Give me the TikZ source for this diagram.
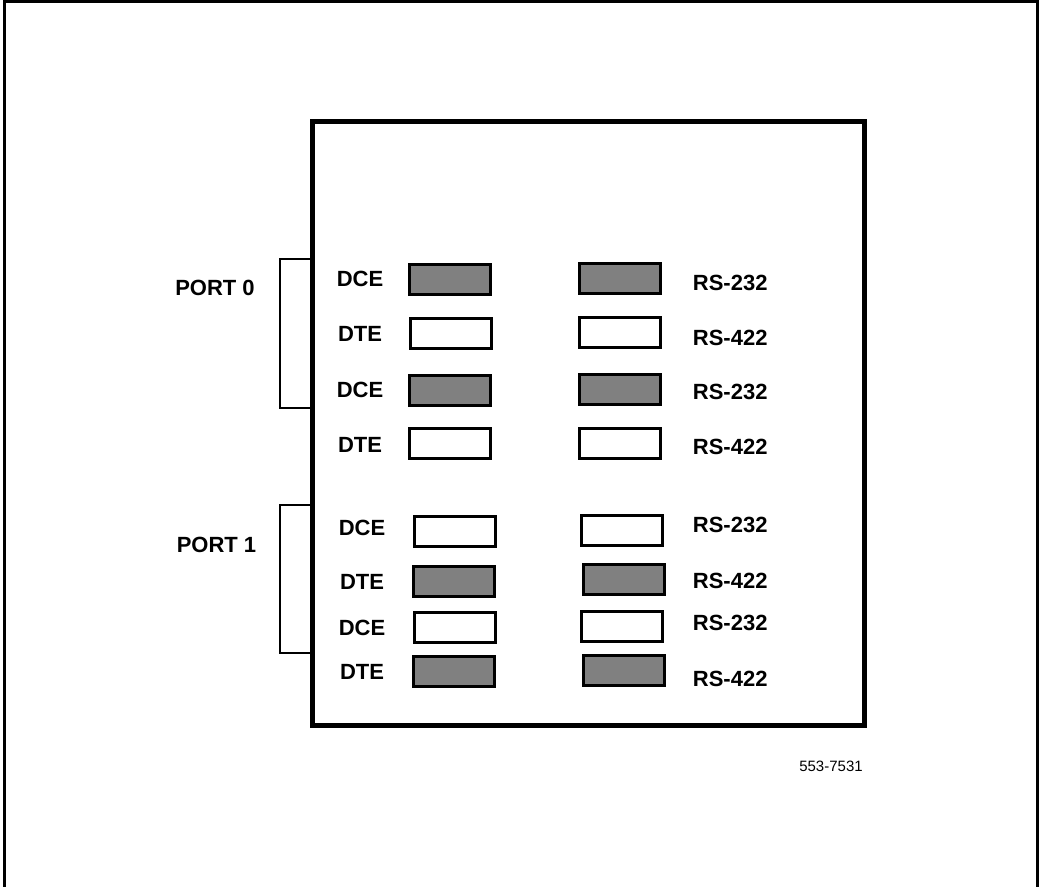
\documentclass[tikz,border=0pt]{standalone}
\usepackage{fontspec}
\setmainfont{Liberation Sans}
\definecolor{jumpergray}{HTML}{808080}
\tikzset{
  jumper/.style={draw,line width=1.5pt,minimum width=40.5pt,minimum height=15pt,inner sep=0pt,outer sep=0pt},
  tag/.style={inner sep=0pt,font=\fontsize{11pt}{13pt}\selectfont\bfseries},
  bracket/.style={line width=0.85pt}
}
\begin{document}
\begin{tikzpicture}[x=0.5pt,y=-0.5pt]
  \useasboundingbox (0,0) rectangle (1040,887);
  % outer frame, open at the bottom
  \draw[line width=1.5pt] (4.5,887)--(4.5,1.5)--(1037.5,1.5)--(1037.5,887);
  % card outline
  \node[draw,line width=2.5pt,minimum width=276pt,minimum height=302.25pt,inner sep=0pt,outer sep=0pt]
    (board) at (588.5,423.75) {};
  % port brackets
  \draw[bracket] (board.west |- 0,259) -| (280,408) -- (board.west |- 0,408);
  \draw[bracket] (board.west |- 0,505) -| (280,653) -- (board.west |- 0,653);
  \node[tag] (port0) at (215,288) {PORT 0};
  \node[tag] (port1) at (216.5,545) {PORT 1};
  % DCE/DTE jumpers
  \foreach \n/\lbl/\lx/\ly/\jx/\jy/\jf in {1/DCE/360/279/450/279.5/jumpergray,2/DTE/360/334/451/334/white,
      3/DCE/360/390/449.5/390.5/jumpergray,4/DTE/360/445/450/443.5/white,
      5/DCE/362/528/455/532/white,6/DTE/362/582/454/581.5/jumpergray,
      7/DCE/362/628/455/628/white,8/DTE/362/672/454/672/jumpergray}{
    \node[tag] (mode\n) at (\lx,\ly) {\lbl};
    \node[jumper,fill=\jf] (modejmp\n) at (\jx,\jy) {};
  }
  % RS-232/RS-422 jumpers
  \foreach \n/\lbl/\ly/\jx/\jy/\jf in {1/RS-232/283/619.5/278.5/jumpergray,2/RS-422/338/620/333/white,
      3/RS-232/392/619.5/389.5/jumpergray,4/RS-422/447/620/444/white,
      5/RS-232/525/621.5/531/white,6/RS-422/581/623.5/580/jumpergray,
      7/RS-232/623/621.5/627/white,8/RS-422/679/623.5/671/jumpergray}{
    \node[jumper,fill=\jf] (ifjmp\n) at (\jx,\jy) {};
    \node[tag,anchor=west] (if\n) at (692.5,\ly) {\lbl};
  }
  \node[inner sep=0pt,font=\fontsize{7.5pt}{9pt}\selectfont] (figno) at (831,766) {553-7531};
\end{tikzpicture}
\end{document}
